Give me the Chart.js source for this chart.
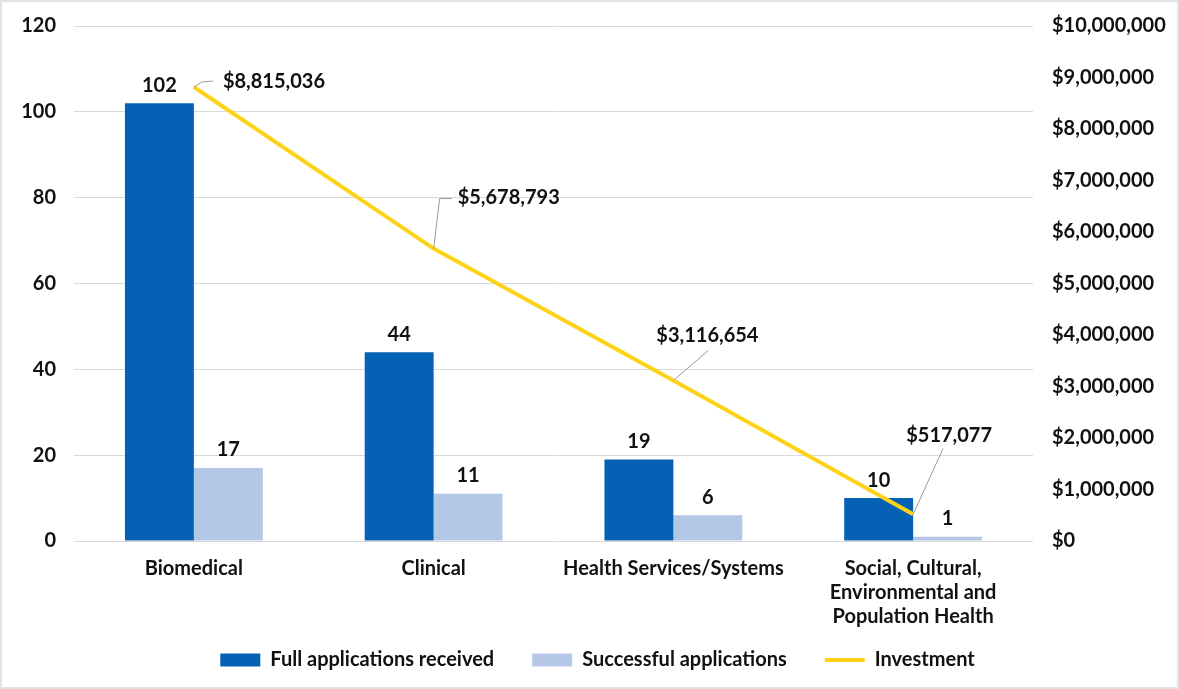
<!DOCTYPE html>
<html>
<head>
<meta charset="utf-8">
<script src="https://cdn.jsdelivr.net/npm/chart.js@4"></script>
<style>
    html, body { margin: 0; padding: 0; background: #fff; }
    #wrap { position: relative; width: 1179px; height: 689px; box-sizing: border-box; border: 2px solid #e3e3e3; }
    canvas { display: block; }
</style>
</head>
<body>
<div id="wrap"><canvas id="chart" width="1175" height="685"></canvas></div>
<script>
// 数据
const categories = [
    'Biomedical',
    'Clinical',
    'Health Services/Systems',
    ['Social, Cultural,', 'Environmental and', 'Population Health']
];
const fullApplications = [102, 44, 19, 10];
const successfulApplications = [17, 11, 6, 1];
const investment = [8815036, 5678793, 3116654, 517077];

// 投资标签相对数据点的位置（像素），以及引线拐点
const investLabelOffsets = [
    { dx: 29, dy: -5, align: 'left', leader: [[8, -5], [19, -6]] },
    { dx: 24, dy: -51, align: 'left', leader: [[6, -50], [18, -50]] },
    { dx: 34, dy: -45, align: 'center', leader: [[35, -30]] },
    { dx: 36, dy: -79, align: 'center', leader: [[30, -66]] }
];

const FONT = { family: 'Lato', size: 20, weight: 'bold' };
const TEXT_COLOR = '#111111';

const fmtMoney = v => '$' + Math.round(v).toLocaleString('en-US');

// 自定义数据标签插件
const labelPlugin = {
    id: 'valueLabels',
    afterLayout(chart) {
        // 图例整体略向右偏
        if (chart.legend) {
            chart.legend.left += 12;
            chart.legend.right += 12;
        }
    },
    afterDatasetsDraw(chart) {
        const ctx = chart.ctx;
        ctx.save();
        ctx.font = `${FONT.weight} ${FONT.size}px ${FONT.family}`;
        ctx.fillStyle = TEXT_COLOR;

        // 柱状图数值
        [0, 1].forEach(di => {
            const meta = chart.getDatasetMeta(di);
            const data = chart.data.datasets[di].data;
            ctx.textAlign = 'center';
            ctx.textBaseline = 'bottom';
            meta.data.forEach((bar, i) => {
                ctx.fillText(String(data[i]), bar.x, bar.y - 8);
            });
        });

        // 投资金额与引线
        const lineMeta = chart.getDatasetMeta(2);
        lineMeta.data.forEach((pt, i) => {
            const o = investLabelOffsets[i];
            ctx.strokeStyle = '#9a9a9a';
            ctx.lineWidth = 1;
            ctx.beginPath();
            ctx.moveTo(pt.x, pt.y);
            o.leader.forEach(([lx, ly]) => ctx.lineTo(pt.x + lx, pt.y + ly));
            ctx.stroke();

            ctx.textAlign = o.align;
            ctx.textBaseline = 'middle';
            ctx.fillText(fmtMoney(investment[i]), pt.x + o.dx, pt.y + o.dy);
        });
        ctx.restore();
    }
};

// 纵轴不额外留出顶部/底部边距
function fixYAxis(width) {
    return function (scale) {
        scale.width = width;
        scale.paddingTop = 0;
        scale.paddingBottom = 0;
    };
}

new Chart(document.getElementById('chart'), {
    type: 'bar',
    data: {
        labels: categories,
        datasets: [
            {
                label: 'Full applications received',
                data: fullApplications,
                backgroundColor: '#0561b3',
                borderWidth: 0,
                yAxisID: 'y',
                pointStyle: 'rect',
                order: 2
            },
            {
                label: 'Successful applications',
                data: successfulApplications,
                backgroundColor: '#b4c7e7',
                borderWidth: 0,
                yAxisID: 'y',
                pointStyle: 'rect',
                order: 2
            },
            {
                type: 'line',
                label: 'Investment',
                data: investment,
                borderColor: '#fdd31a',
                backgroundColor: '#fdd31a',
                borderWidth: 4,
                pointRadius: 0,
                tension: 0,
                yAxisID: 'y1',
                pointStyle: 'line',
                order: 1
            }
        ]
    },
    options: {
        responsive: false,
        animation: false,
        categoryPercentage: 0.575,
        barPercentage: 1.0,
        layout: {
            padding: { top: 24, right: 8, left: 0, bottom: 7 }
        },
        plugins: {
            legend: {
                position: 'bottom',
                labels: {
                    usePointStyle: true,
                    pointStyleWidth: 40,
                    boxWidth: 40,
                    boxHeight: 13,
                    padding: 38,
                    color: TEXT_COLOR,
                    font: FONT,
                    sort: (a, b) => a.datasetIndex - b.datasetIndex
                }
            },
            tooltip: { enabled: false }
        },
        scales: {
            x: {
                grid: { display: false },
                border: { display: false },
                ticks: {
                    color: TEXT_COLOR,
                    font: FONT,
                    maxRotation: 0,
                    autoSkip: false,
                    padding: 8
                },
                afterFit: function (scale) {
                    scale.height = 71;
                    // 三行标签会超出轴区域，取消裁剪
                    scale._computeLabelArea = () => undefined;
                }
            },
            y: {
                position: 'left',
                min: 0,
                max: 120,
                ticks: {
                    stepSize: 20,
                    color: TEXT_COLOR,
                    font: FONT,
                    padding: 18
                },
                grid: {
                    color: '#d9d9d9',
                    drawTicks: false
                },
                border: { display: false },
                afterFit: fixYAxis(72)
            },
            y1: {
                position: 'right',
                min: 0,
                max: 10000000,
                ticks: {
                    stepSize: 1000000,
                    color: TEXT_COLOR,
                    font: FONT,
                    padding: 19,
                    callback: function (value) {
                        return fmtMoney(value);
                    }
                },
                grid: { display: false, drawTicks: false },
                border: { display: false },
                afterFit: fixYAxis(136)
            }
        }
    },
    plugins: [labelPlugin]
});
</script>
</body>
</html>
